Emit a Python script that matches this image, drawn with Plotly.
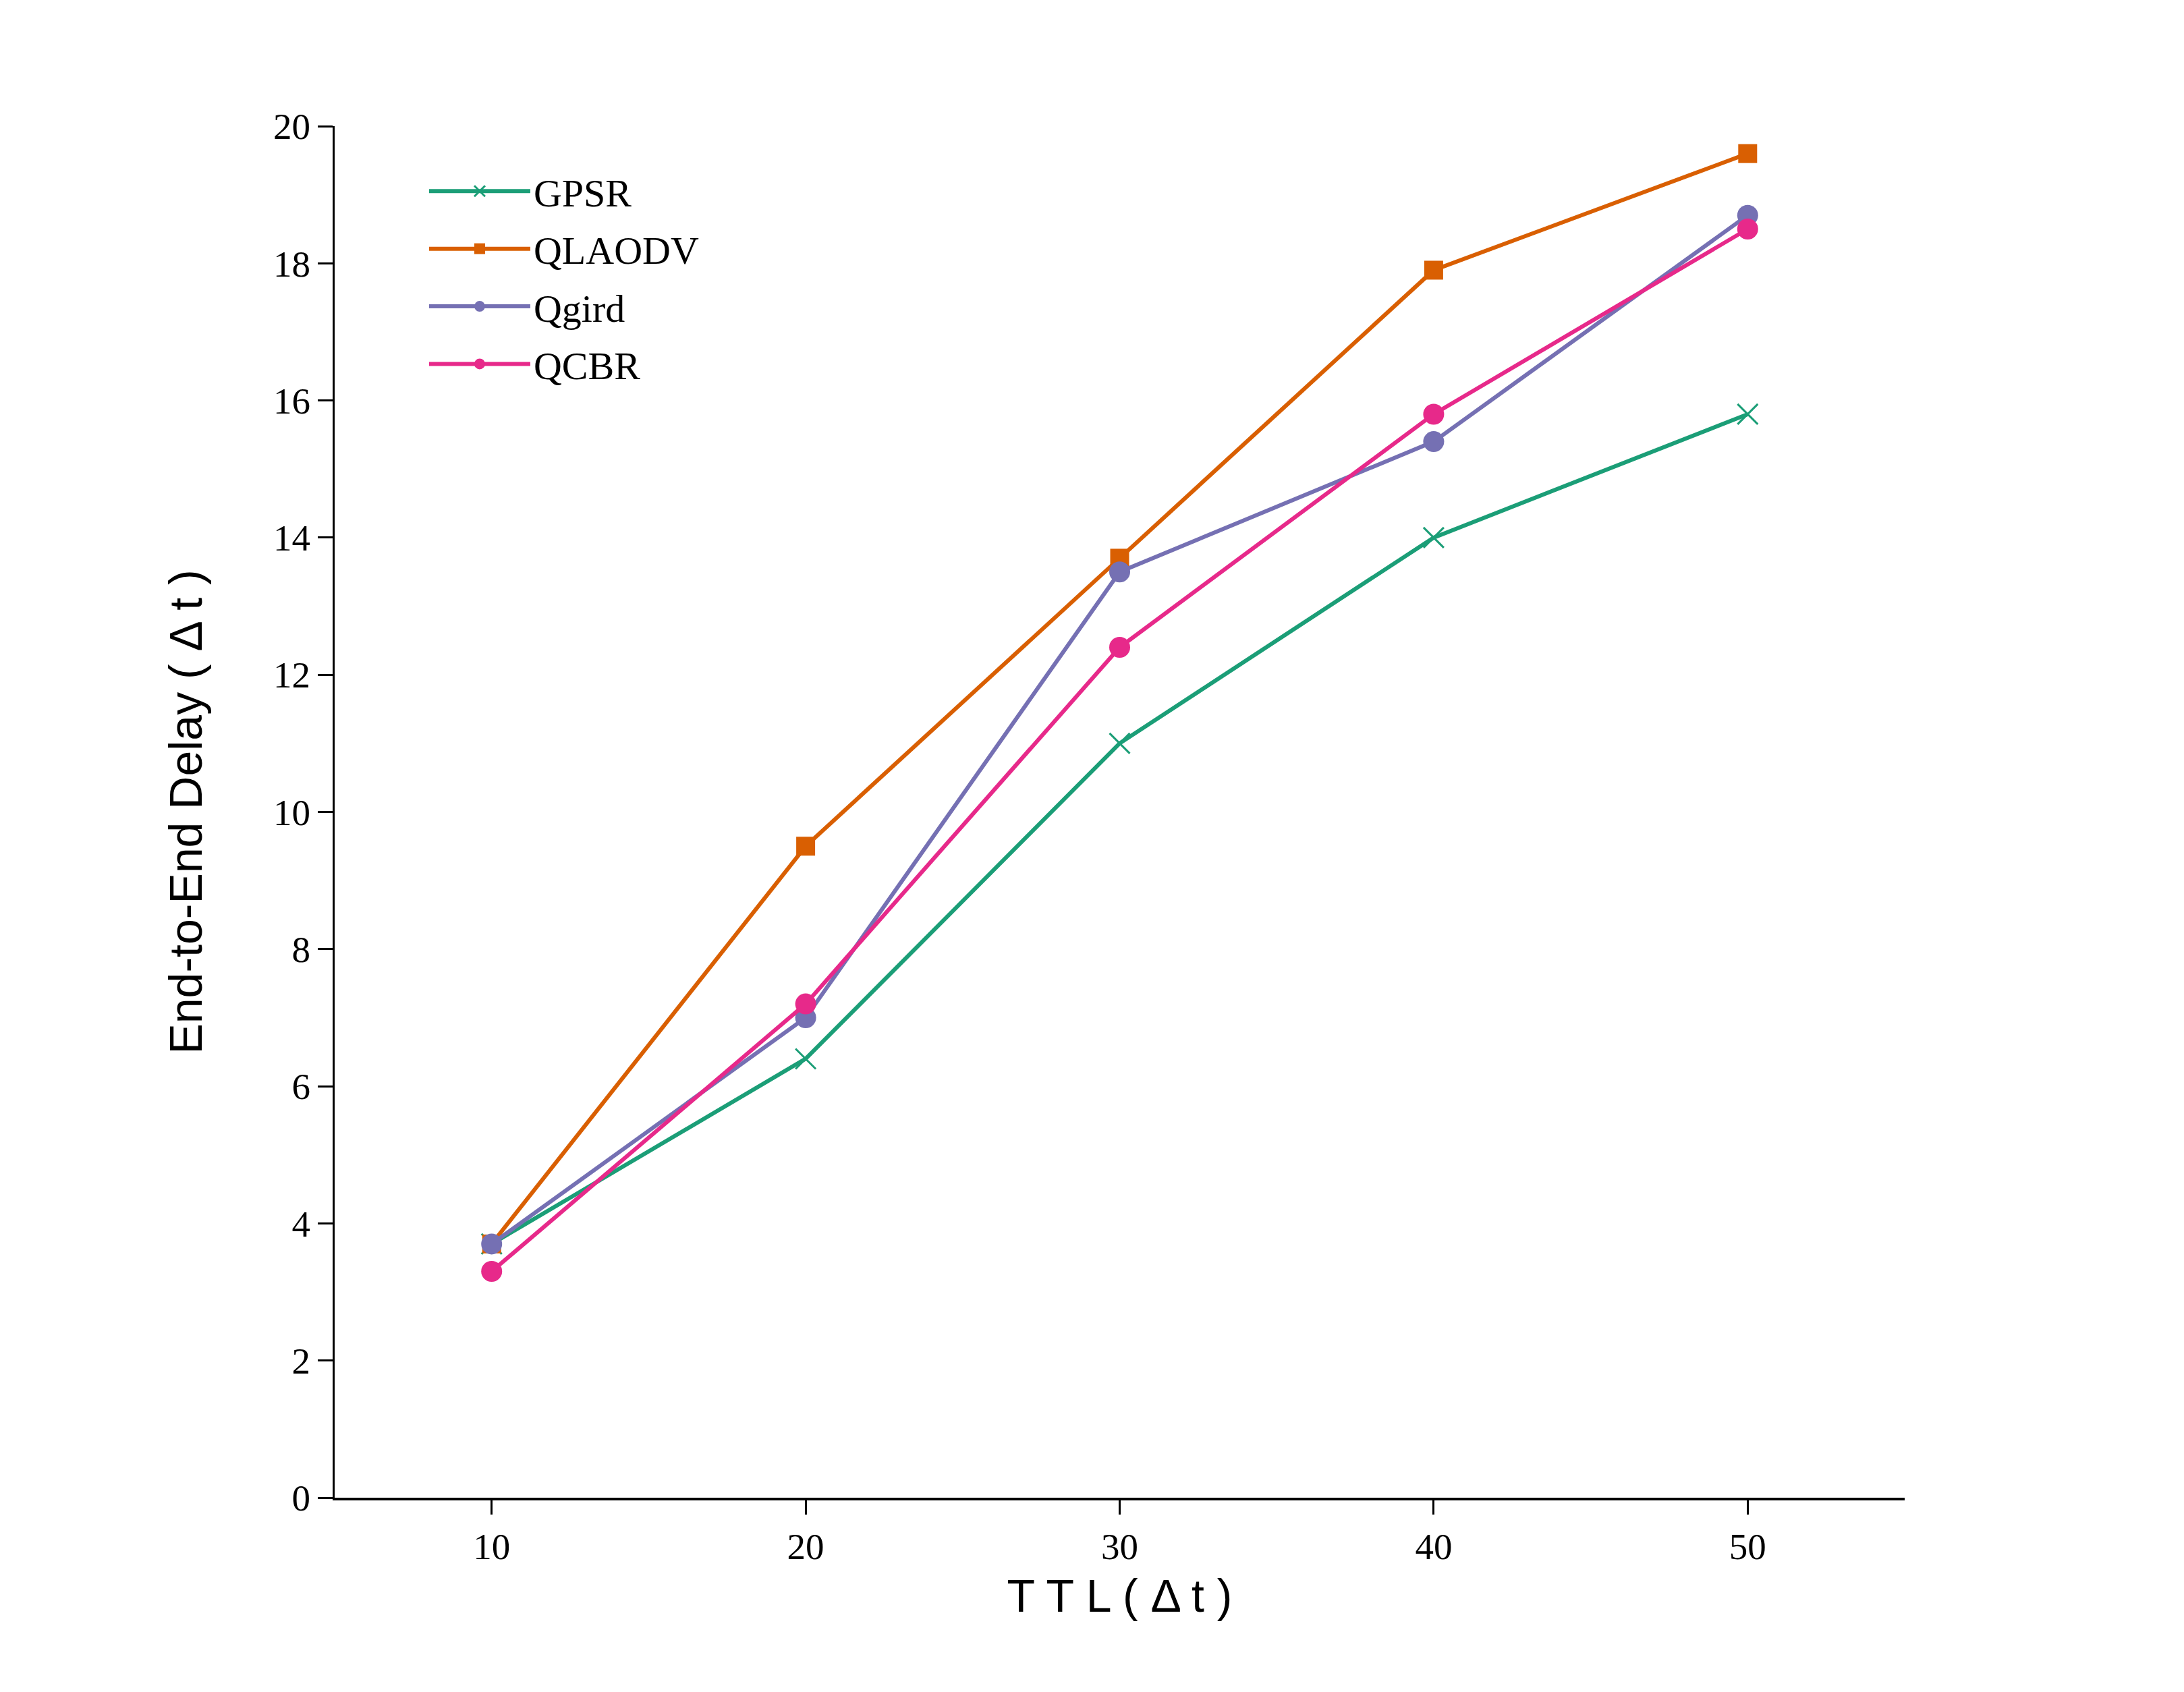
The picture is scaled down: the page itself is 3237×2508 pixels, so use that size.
import plotly.graph_objects as go

ttl = [10, 20, 30, 40, 50]
gpsr = [3.7, 6.4, 11.0, 14.0, 15.8]
qlaodv = [3.7, 9.5, 13.7, 17.9, 19.6]
qgird = [3.7, 7.0, 13.5, 15.4, 18.7]
qcbr = [3.3, 7.2, 12.4, 15.8, 18.5]
y_ticks = [0, 2, 4, 6, 8, 10, 12, 14, 16, 18, 20]

series_names = ["GPSR", "QLAODV", "Qgird", "QCBR"]
colors = ["#1b9e77", "#d95f02", "#7570b3", "#e7298a"]

fig = go.Figure()
fig.add_trace(go.Scatter(x=ttl, y=gpsr, name=series_names[0], mode="lines+markers",
                         legendgroup="g0",
                         line=dict(color=colors[0], width=6),
                         marker=dict(symbol="x-thin-open", size=30,
                                     line=dict(color=colors[0], width=3))))
fig.add_trace(go.Scatter(x=ttl, y=qlaodv, name=series_names[1], mode="lines+markers",
                         legendgroup="g1",
                         line=dict(color=colors[1], width=6),
                         marker=dict(symbol="square", size=28, color=colors[1])))
fig.add_trace(go.Scatter(x=ttl, y=qgird, name=series_names[2], mode="lines+markers",
                         legendgroup="g2",
                         line=dict(color=colors[2], width=6),
                         marker=dict(symbol="circle", size=31, color=colors[2])))
fig.add_trace(go.Scatter(x=ttl, y=qcbr, name=series_names[3], mode="lines+markers",
                         legendgroup="g3",
                         line=dict(color=colors[3], width=6),
                         marker=dict(symbol="circle", size=31, color=colors[3])))

serif = "Liberation Serif, Times New Roman, serif"
sans = "Liberation Sans, Arial, sans-serif"

fig.update_layout(
    width=3221, height=2492,
    paper_bgcolor="white", plot_bgcolor="white",
    margin=dict(l=488, r=406, t=179, b=280),
    showlegend=True,
    legend=dict(x=0.058, y=0.9744, xanchor="left", yanchor="top",
                font=dict(family=serif, size=58, color="black"),
                bgcolor="rgba(0,0,0,0)", itemwidth=150,
                traceorder="grouped", tracegroupgap=7),
    xaxis=dict(range=[5, 55], tickvals=ttl, ticks="outside", ticklen=21, tickwidth=3,
               tickcolor="black", showline=True, linecolor="black", linewidth=4,
               showgrid=False, zeroline=False, automargin=False,
               tickfont=dict(family=serif, size=55, color="black"),
               title=dict(text="T T L ( Δ t )", font=dict(family=sans, size=68, color="black"),
                          standoff=20)),
    yaxis=dict(range=[0, 20], tickvals=y_ticks,
               ticks="outside", ticklen=22, tickwidth=3, tickcolor="black",
               showline=True, linecolor="black", linewidth=3,
               showgrid=False, zeroline=False, automargin=False,
               tickfont=dict(family=serif, size=55, color="black"),
               title=dict(text="End-to-End Delay ( Δ t )", font=dict(family=sans, size=68, color="black"),
                          standoff=84)),
)

fig.write_html("out.html")
